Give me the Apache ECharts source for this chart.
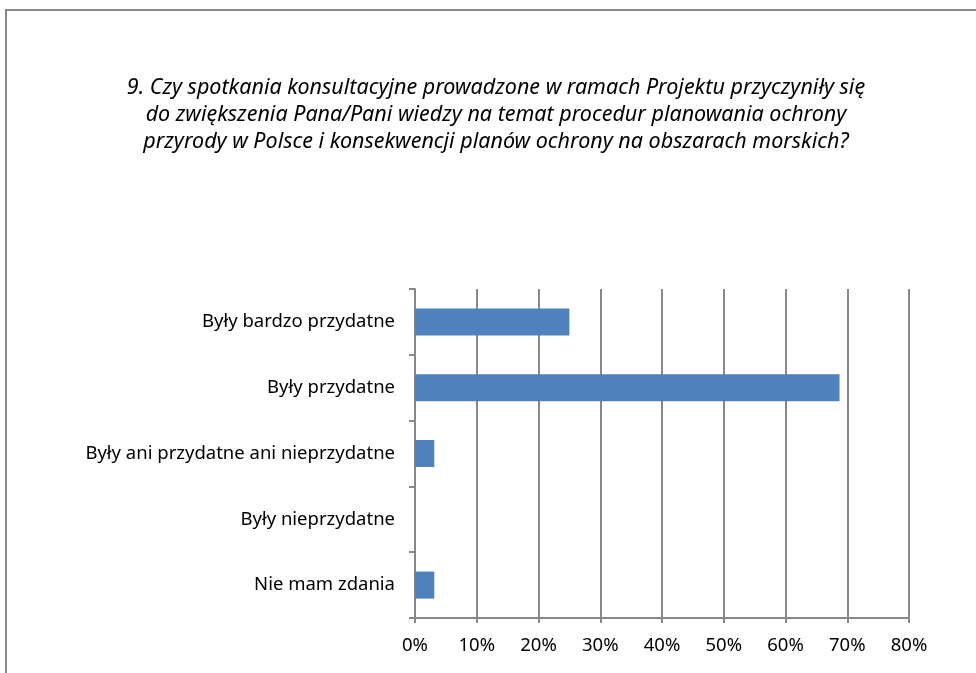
<!DOCTYPE html>
<html><head><meta charset="utf-8">
<script src="https://cdn.jsdelivr.net/npm/echarts@6/dist/echarts.min.js"></script>
<style>html,body{margin:0;padding:0;background:#fff}#c{width:976px;height:673px}</style>
</head><body><div id="c"></div>
<script>
const categories = ['Były bardzo przydatne','Były przydatne','Były ani przydatne ani nieprzydatne','Były nieprzydatne','Nie mam zdania'];
const values = [25, 68.75, 3.125, 0, 3.125];
const xTicks = [0,10,20,30,40,50,60,70,80];
const titleText = '9. Czy spotkania konsultacyjne prowadzone w ramach Projektu przyczyniły się\ndo zwiększenia Pana/Pani wiedzy na temat procedur planowania ochrony\nprzyrody w Polsce i konsekwencji planów ochrony na obszarach morskich?';

const chart = echarts.init(document.getElementById('c'));
chart.setOption({
  animation:false,
  backgroundColor:'#fff',
  title:{text:titleText,left:491,top:69,textAlign:'center',
    textStyle:{fontFamily:'Noto Sans',fontStyle:'italic',fontWeight:'normal',fontSize:21.5,lineHeight:27,color:'#000'}},
  graphic:[{type:'rect',shape:{x:6,y:10,width:1000,height:700},style:{fill:'none',stroke:'#888',lineWidth:2}}],
  grid:{left:415,right:67,top:289,bottom:55,containLabel:false},
  xAxis:{type:'value',min:0,max:80,interval:10,
    axisLine:{show:true,lineStyle:{color:'#888',width:2}},
    axisTick:{show:true,length:5,lineStyle:{color:'#888',width:2}},
    splitLine:{show:true,lineStyle:{color:'#888',width:2}},
    axisLabel:{formatter:v=>v+'%',fontFamily:'Noto Sans',fontSize:18.5,color:'#000',margin:18}},
  yAxis:{type:'category',inverse:true,data:categories,
    axisLine:{show:true,lineStyle:{color:'#888',width:2}},
    axisTick:{show:true,length:6,lineStyle:{color:'#888',width:2}},
    axisLabel:{fontFamily:'Noto Sans',fontSize:18.5,color:'#000',margin:20}},
  series:[{type:'bar',data:values,barWidth:27,itemStyle:{color:'#4F81BD',borderWidth:0}}]
});
</script></body></html>
